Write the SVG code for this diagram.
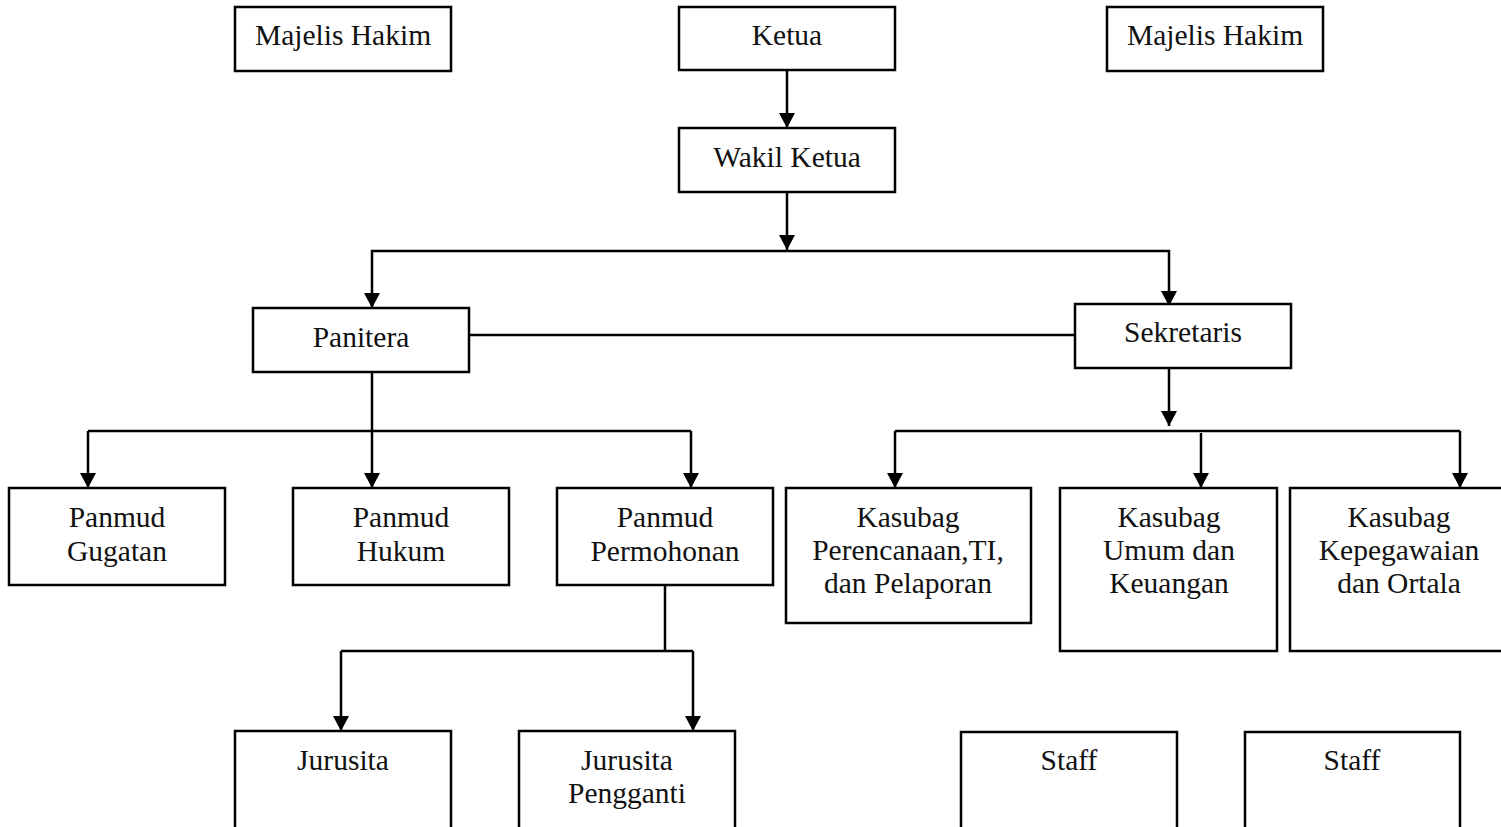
<svg xmlns="http://www.w3.org/2000/svg" width="1501" height="827" viewBox="0 0 1501 827">
<style>
.box{fill:#fff;stroke:#000;stroke-width:2.5}
.t{font-family:"Liberation Serif","Times New Roman",serif;font-size:29.5px;fill:#111;text-anchor:middle}
.c{fill:none;stroke:#000;stroke-width:2.5}
</style>
<defs>
<marker id="ah" markerUnits="userSpaceOnUse" viewBox="0 0 15 16" refX="15" refY="8" markerWidth="15" markerHeight="16" orient="auto">
<path d="M0,0 L15,8 L0,16 z" fill="#000"/>
</marker>
</defs>
<rect width="1501" height="827" fill="#fff"/>
<g id="connectors">
<path class="c" d="M787 70 V128" marker-end="url(#ah)"/>
<path class="c" d="M787 192 V250" marker-end="url(#ah)"/>
<path class="c" d="M787 251 H372 V308" marker-end="url(#ah)"/>
<path class="c" d="M787 251 H1169 V306" marker-end="url(#ah)"/>
<path class="c" d="M469 335 H1075"/>
<path class="c" d="M372 372 V488" marker-end="url(#ah)"/>
<path class="c" d="M88 431 H691"/>
<path class="c" d="M88 431 V488" marker-end="url(#ah)"/>
<path class="c" d="M691 431 V488" marker-end="url(#ah)"/>
<path class="c" d="M1169 368 V426" marker-end="url(#ah)"/>
<path class="c" d="M895 431 H1460"/>
<path class="c" d="M895 431 V488" marker-end="url(#ah)"/>
<path class="c" d="M1201 433 V488" marker-end="url(#ah)"/>
<path class="c" d="M1460 431 V488" marker-end="url(#ah)"/>
<path class="c" d="M665 585 V651"/>
<path class="c" d="M341 651 H693"/>
<path class="c" d="M341 651 V731" marker-end="url(#ah)"/>
<path class="c" d="M693 651 V731" marker-end="url(#ah)"/>
</g>
<g id="majelis-hakim-1"><rect class="box" x="235" y="7" width="216" height="64"/><text class="t" x="343" y="45">Majelis Hakim</text></g>
<g id="ketua"><rect class="box" x="679" y="7" width="216" height="63"/><text class="t" x="787" y="45">Ketua</text></g>
<g id="majelis-hakim-2"><rect class="box" x="1107" y="7" width="216" height="64"/><text class="t" x="1215" y="45">Majelis Hakim</text></g>
<g id="wakil-ketua"><rect class="box" x="679" y="128" width="216" height="64"/><text class="t" x="787" y="167">Wakil Ketua</text></g>
<g id="panitera"><rect class="box" x="253" y="308" width="216" height="64"/><text class="t" x="361" y="347">Panitera</text></g>
<g id="sekretaris"><rect class="box" x="1075" y="304" width="216" height="64"/><text class="t" x="1183" y="342">Sekretaris</text></g>
<g id="panmud-gugatan"><rect class="box" x="9" y="488" width="216" height="97"/><text class="t" x="117" y="527">Panmud</text><text class="t" x="117" y="561">Gugatan</text></g>
<g id="panmud-hukum"><rect class="box" x="293" y="488" width="216" height="97"/><text class="t" x="401" y="527">Panmud</text><text class="t" x="401" y="561">Hukum</text></g>
<g id="panmud-permohonan"><rect class="box" x="557" y="488" width="216" height="97"/><text class="t" x="665" y="527">Panmud</text><text class="t" x="665" y="561">Permohonan</text></g>
<g id="kasubag-perencanaan"><rect class="box" x="786" y="488" width="245" height="135"/><text class="t" x="908" y="527">Kasubag</text><text class="t" x="908" y="560">Perencanaan,TI,</text><text class="t" x="908" y="593">dan Pelaporan</text></g>
<g id="kasubag-umum"><rect class="box" x="1060" y="488" width="217" height="163"/><text class="t" x="1169" y="527">Kasubag</text><text class="t" x="1169" y="560">Umum dan</text><text class="t" x="1169" y="593">Keuangan</text></g>
<g id="kasubag-kepegawaian"><rect class="box" x="1290" y="488" width="218" height="163"/><text class="t" x="1399" y="527">Kasubag</text><text class="t" x="1399" y="560">Kepegawaian</text><text class="t" x="1399" y="593">dan Ortala</text></g>
<g id="jurusita"><rect class="box" x="235" y="731" width="216" height="110"/><text class="t" x="343" y="770">Jurusita</text></g>
<g id="jurusita-pengganti"><rect class="box" x="519" y="731" width="216" height="110"/><text class="t" x="627" y="770">Jurusita</text><text class="t" x="627" y="803">Pengganti</text></g>
<g id="staff-1"><rect class="box" x="961" y="732" width="216" height="110"/><text class="t" x="1069" y="770">Staff</text></g>
<g id="staff-2"><rect class="box" x="1245" y="732" width="215" height="110"/><text class="t" x="1352" y="770">Staff</text></g>
</svg>
